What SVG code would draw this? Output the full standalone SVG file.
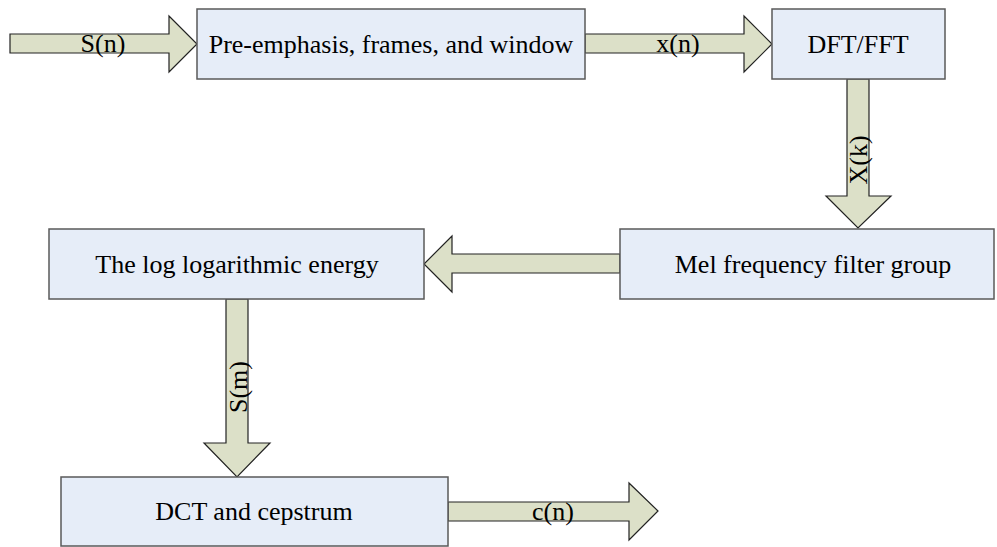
<svg xmlns="http://www.w3.org/2000/svg" width="997" height="547" viewBox="0 0 997 547">
<style>
.box{fill:#E6EDF8;stroke:#5A5A5A;stroke-width:1.5}
.arr{fill:#DCE0C8;stroke:#222;stroke-width:1.2;stroke-linejoin:miter}
.t{font-family:'Liberation Serif','DejaVu Serif',serif;font-size:26px;fill:#000;text-anchor:middle}
</style>
<rect width="997" height="547" fill="#fff"/>
<g id="connectors">
<polygon class="arr" points="10,34 169,34 169,16 197,44 169,72 169,53 10,53"/>
<polygon class="arr" points="585,34 744,34 744,16 772,44 744,72 744,53 585,53"/>
<polygon class="arr" points="847,79 869,79 869,196 891,196 858,228 826,196 847,196"/>
<polygon class="arr" points="620,254 452,254 452,236 424,264 452,292 452,273 620,273"/>
<polygon class="arr" points="226,299 248,299 248,443 270,443 237,477 204,443 226,443"/>
<polygon class="arr" points="448,502 629,502 629,483 658,511 629,540 629,521 448,521"/>
<text class="t" x="103" y="52">S(n)</text>
<text class="t" x="678" y="52">x(n)</text>
<text class="t" transform="translate(867,160) rotate(-90)">X(k)</text>
<text class="t" transform="translate(247,387) rotate(-90)">S(m)</text>
<text class="t" x="553" y="520">c(n)</text>
</g>
<g id="node-preemphasis">
<rect class="box" x="197" y="9" width="388" height="70"/>
<text class="t" x="391" y="53">Pre-emphasis, frames, and window</text>
</g>
<g id="node-dft">
<rect class="box" x="772" y="9" width="173" height="70"/>
<text class="t" x="858" y="53">DFT/FFT</text>
</g>
<g id="node-mel">
<rect class="box" x="620" y="229" width="374" height="70"/>
<text class="t" x="813" y="273">Mel frequency filter group</text>
</g>
<g id="node-log">
<rect class="box" x="49" y="229" width="375" height="70"/>
<text class="t" x="237" y="273">The log logarithmic energy</text>
</g>
<g id="node-dct">
<rect class="box" x="61" y="477" width="387" height="69"/>
<text class="t" x="254" y="520">DCT and cepstrum</text>
</g>
</svg>
